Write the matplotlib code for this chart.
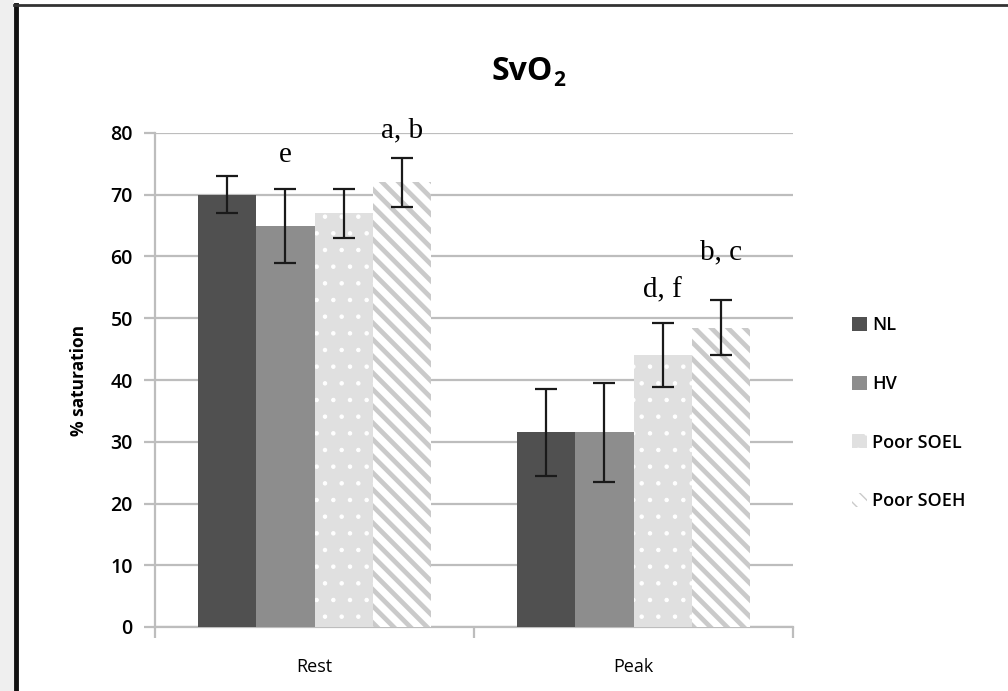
import matplotlib.pyplot as plt
import matplotlib.patches as mpatches
from matplotlib.lines import Line2D
import numpy as np

# ── data ─────────────────────────────────────────────────────────────────────
categories = ['Rest', 'Peak']
groups = ['NL', 'HV', 'Poor SOEL', 'Poor SOEH']
means = {
    'NL':        [70.0, 31.5],
    'HV':        [65.0, 31.5],
    'Poor SOEL': [67.0, 44.0],
    'Poor SOEH': [72.0, 48.5],
}
errs = {
    'NL':        [3.0, 7.0],
    'HV':        [6.0, 8.0],
    'Poor SOEL': [4.0, 5.2],
    'Poor SOEH': [4.0, 4.4],
}
# significance letters: (category index, group, text, baseline y)
sig_labels = [(0, 'HV', 'e', 75.3), (0, 'Poor SOEH', 'a, b', 79.3),
              (1, 'Poor SOEL', 'd, f', 53.3), (1, 'Poor SOEH', 'b, c', 59.5)]
yticks = [0, 10, 20, 30, 40, 50, 60, 70, 80]

# ── styling ──────────────────────────────────────────────────────────────────
styles = {
    'NL':        dict(facecolor='#505050', hatch=None, hcolor=None),
    'HV':        dict(facecolor='#8d8d8d', hatch=None, hcolor=None),
    'Poor SOEL': dict(facecolor='#e0e0e0', hatch='.', hcolor='#ffffff'),
    'Poor SOEH': dict(facecolor='#ffffff', hatch='\\\\', hcolor='#cacaca'),
}
hatch_lw = {'Poor SOEL': 0.8, 'Poor SOEH': 3.4}
grid_c = '#bdbdbd'
font = ['Open Sans', 'DejaVu Sans']

fig = plt.figure(figsize=(10.08, 6.91), dpi=100)
fig.patch.set_facecolor('white')

# outer frame like the screenshot
fig.add_artist(mpatches.Rectangle((0, 0), 14 / 1008, 1, transform=fig.transFigure,
                                  facecolor='#efefef', edgecolor='none'))
fig.add_artist(Line2D([16 / 1008, 16 / 1008], [0, 1 - 5 / 691], transform=fig.transFigure,
                      color='#111111', lw=3.5))
fig.add_artist(Line2D([14 / 1008, 1], [1 - 5 / 691, 1 - 5 / 691], transform=fig.transFigure,
                      color='#333333', lw=2))

ax = fig.add_axes([155 / 1008, 64 / 691, 638 / 1008, 494 / 691])

n = len(groups)
bw = 0.183
x = np.arange(len(categories)) + 0.5
for i, g in enumerate(groups):
    st = styles[g]
    xs = x + (i - (n - 1) / 2) * bw
    bars = ax.bar(xs, means[g], width=bw, color=st['facecolor'], edgecolor='none',
                  zorder=3, label=g)
    if st['hatch']:
        for b in bars:
            b.set_hatch(st['hatch'])
            b.set_edgecolor(st['hcolor'])
            b.set_linewidth(0)
            if hasattr(b, 'set_hatch_linewidth'):
                b.set_hatch_linewidth(hatch_lw[g])
    ax.errorbar(xs, means[g], yerr=errs[g], fmt='none', ecolor='#1a1a1a',
                elinewidth=1.6, capsize=8, capthick=1.6, zorder=4)

for ci, g, txt, yb in sig_labels:
    i = groups.index(g)
    xs = x[ci] + (i - (n - 1) / 2) * bw
    ax.text(xs, yb, txt, ha='center', va='baseline', fontsize=21,
            family='Liberation Serif', color='black', zorder=5)

ax.set_xlim(0, 2)
ax.set_ylim(0, 80)
ax.set_yticks(yticks)
ax.set_yticklabels([str(v) for v in yticks], fontsize=14, family=font, fontweight='semibold')
ax.yaxis.grid(True, color=grid_c, lw=1.6, zorder=0)
ax.set_axisbelow(True)

ax.set_xticks(x)
ax.set_xticklabels(categories, fontsize=13, family=font, fontweight='medium')
ax.set_xticks([0, 1, 2], minor=True)
ax.tick_params(axis='x', which='major', length=0, pad=22)
ax.tick_params(axis='x', which='minor', length=8, width=1.6, color=grid_c, direction='out')
ax.tick_params(axis='y', length=8, width=1.6, color=grid_c, direction='out', pad=8)

for s in ['top', 'right']:
    ax.spines[s].set_visible(False)
for s in ['left', 'bottom']:
    ax.spines[s].set_color(grid_c)
    ax.spines[s].set_linewidth(1.6)

ax.set_ylabel('% saturation', fontsize=12.5, fontweight='bold', family=font, labelpad=16)

title = fig.text(522 / 1008, 1 - 72 / 691, 'SvO', ha='center', va='center', fontsize=23,
                 fontweight='bold', family=font)
ax.annotate('2', xy=(1, 0.24), xycoords=title, xytext=(0.5, 0), textcoords='offset points',
            ha='left', va='center', fontsize=15, fontweight='bold', family=font,
            annotation_clip=False)

# legend
handles = []
for g in groups:
    st = styles[g]
    p = mpatches.Patch(facecolor=st['facecolor'], edgecolor=st['hcolor'] or 'none',
                       hatch=st['hatch'], linewidth=0)
    handles.append(p)
leg = fig.legend(handles, groups, loc='upper left', bbox_to_anchor=(836 / 1008, 1 - 300 / 691),
                 frameon=False, handlelength=0.8, handleheight=0.8, handletextpad=0.3,
                 labelspacing=2.25, prop={'family': font, 'size': 13, 'weight': 'semibold'})

fig.savefig('out.png', dpi=100, facecolor='white')
plt.close()
